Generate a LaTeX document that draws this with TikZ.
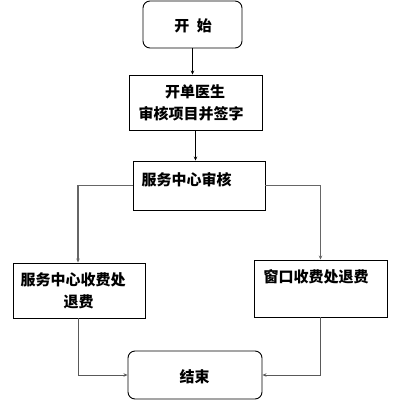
\documentclass[tikz,border=0pt]{standalone}
\usepackage{fontspec}
\setmainfont{Noto Sans CJK SC}
\usetikzlibrary{arrows.meta}
\begin{document}
\begin{tikzpicture}[x=1pt,y=-1pt,
  box/.style={draw=black, line width=0.9pt, inner sep=0pt},
  rbox/.style={box, rounded corners=7pt},
  txt/.style={inner sep=0pt, font=\fontsize{15pt}{18pt}\selectfont\bfseries},
  arr/.style={-{Stealth[length=4pt,width=3.5pt]}, line width=0.7pt, black},
  garr/.style={-{Stealth[length=4pt,width=3.5pt]}, line width=1.2pt, black!60},
  gline/.style={-{Stealth[length=4pt,width=3.5pt]}, line width=0.9pt, black!65}]
\useasboundingbox (0,0) rectangle (404,410);
% boxes
\node[rbox, minimum width=99pt, minimum height=47pt] (start) at (192.5,24.5) {};
\node[box, minimum width=133pt, minimum height=55pt] (doc) at (195.5,102.5) {};
\node[box, minimum width=132pt, minimum height=49pt] (svc) at (199,185.5) {};
\node[box, minimum width=132pt, minimum height=55pt] (lft) at (79,290.5) {};
\node[box, minimum width=133pt, minimum height=57pt] (rgt) at (320.5,288.5) {};
\node[rbox, minimum width=134pt, minimum height=48pt] (end) at (195,375) {};
% texts
\node[txt] (t1) at (193,26) {开\hspace{0.5em}始};
\node[txt] (t2a) at (195,92) {开单医生};
\node[txt, anchor=west] (t2b) at (138.5,114) {审核项目并签字};
\node[txt, anchor=west] (t3) at (141.5,180) {服务中心审核};
\node[txt, anchor=west] (t4a) at (20.5,280) {服务中心收费处};
\node[txt] (t4b) at (78.5,302) {退费};
\node[txt, anchor=west] (t5) at (263.5,277) {窗口收费处退费};
\node[txt] (t6) at (194.5,377) {结束};
% connectors
\draw[arr] (start.south) -- (doc.north -| start.south);
\draw[arr] (doc.south) -- (svc.north -| doc.south);
\draw[garr] (svc.west) -| (lft.north -| 78,0);
\draw[garr] (svc.east) -| (rgt.north);
\draw[gline] (lft.south -| 78,0) |- (end.west);
\draw[gline] (rgt.south) |- (end.east);
\end{tikzpicture}
\end{document}
